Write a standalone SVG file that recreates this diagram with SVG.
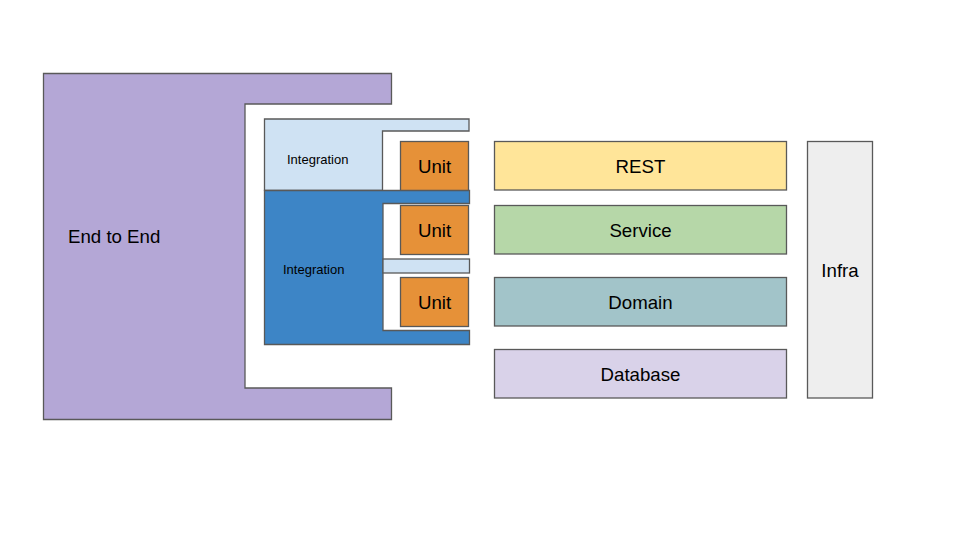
<svg xmlns="http://www.w3.org/2000/svg" width="960" height="540" viewBox="0 0 960 540">
<style>
.s{stroke:#595959;stroke-width:1.3;}
.t{font-family:"Liberation Sans",Arial,sans-serif;fill:#000;}
.big{font-size:18.67px;}
.small{font-size:13px;}
</style>
<rect width="960" height="540" fill="#fff"/>
<g id="e2e">
<path class="s" fill="#b4a7d6" d="M43.5,73.5 H391.5 V104 H245 V388 H391.5 V419.5 H43.5 Z"/>
<text class="t big" x="68" y="243">End to End</text>
</g>
<g id="unit1">
<rect class="s" fill="#e69138" x="400.5" y="141.5" width="68" height="50"/>
<text class="t big" x="434.5" y="173" text-anchor="middle">Unit</text>
</g>
<g id="integration1">
<path class="s" fill="#cfe2f3" d="M264.5,119 H469 V131 H382.5 V190.5 H264.5 Z"/>
<text class="t small" x="287" y="164">Integration</text>
</g>
<g id="integration2">
<path class="s" fill="#3d85c6" d="M264.5,190.5 H469.5 V203.5 H383 V330.5 H469.5 V344.5 H264.5 Z"/>
<rect class="s" fill="#cfe2f3" x="383" y="259" width="86.5" height="14"/>
<text class="t small" x="283" y="274">Integration</text>
</g>
<g id="unit2">
<rect class="s" fill="#e69138" x="400.5" y="205.5" width="68" height="49"/>
<text class="t big" x="434.5" y="237" text-anchor="middle">Unit</text>
</g>
<g id="unit3">
<rect class="s" fill="#e69138" x="400.5" y="277.5" width="68" height="49"/>
<text class="t big" x="434.5" y="309" text-anchor="middle">Unit</text>
</g>
<g id="rest">
<rect class="s" fill="#ffe599" x="494.5" y="141.5" width="292" height="48.5"/>
<text class="t big" x="640.5" y="172.5" text-anchor="middle">REST</text>
</g>
<g id="service">
<rect class="s" fill="#b6d7a8" x="494.5" y="205.5" width="292" height="48.5"/>
<text class="t big" x="640.5" y="236.5" text-anchor="middle">Service</text>
</g>
<g id="domain">
<rect class="s" fill="#a2c4c9" x="494.5" y="277.5" width="292" height="48.5"/>
<text class="t big" x="640.5" y="308.5" text-anchor="middle">Domain</text>
</g>
<g id="database">
<rect class="s" fill="#d9d2e9" x="494.5" y="349.5" width="292" height="48.5"/>
<text class="t big" x="640.5" y="380.5" text-anchor="middle">Database</text>
</g>
<g id="infra">
<rect class="s" fill="#eeeeee" x="807.5" y="141.5" width="65" height="256.5"/>
<text class="t big" x="840" y="277" text-anchor="middle">Infra</text>
</g>
<g id="connectors"/>
</svg>
